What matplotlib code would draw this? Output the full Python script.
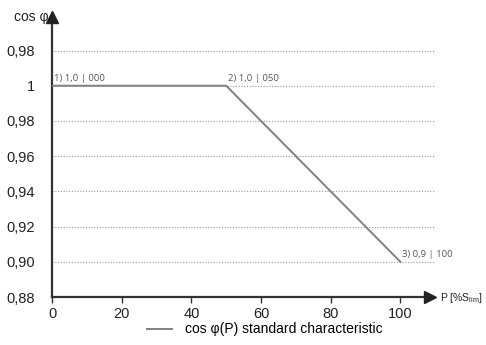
import matplotlib.pyplot as plt

# characteristic points
p_pct = [0, 50, 100]
cos_phi = [1.0, 1.0, 0.9]
point_labels = ["1) 1,0 | 000", "2) 1,0 | 050", "3) 0,9 | 100"]

x_ticks = [0, 20, 40, 60, 80, 100]
y_ticks = [0.88, 0.90, 0.92, 0.94, 0.96, 0.98, 1.00, 1.02]
y_tick_labels = ["0,88", "0,90", "0,92", "0,94", "0,96", "0,98", "1", "0,98"]

plt.rcParams["font.family"] = ["Liberation Sans", "DejaVu Sans"]

fig = plt.figure(figsize=(4.86, 3.45), dpi=100)
ax = fig.add_axes([0.107, 0.139, 0.81, 0.832])

axis_col = "#333333"
ax.set_xlim(0, 113)
ax.set_ylim(0.88, 1.043)

for yv in y_ticks[1:]:
    ax.plot([0, 110], [yv, yv], color="#999999", lw=0.8, ls=(0, (1, 1.5)), zorder=1)

ax.plot(p_pct, cos_phi, color="#808080", lw=1.4, zorder=3,
        label="cos φ(P) standard characteristic")

for x, y, lab in zip(p_pct, cos_phi, point_labels):
    ax.text(x + 0.5, y + 0.0015, lab, fontsize=6.8, color="#555555", ha="left", va="bottom",
            family=["Open Sans", "DejaVu Sans"])

for s in ["top", "right"]:
    ax.spines[s].set_visible(False)
for s in ["left", "bottom"]:
    ax.spines[s].set_color(axis_col)
    ax.spines[s].set_linewidth(1.6)
ax.spines["bottom"].set_bounds(0, 108)
ax.spines["left"].set_bounds(0.88, 1.038)

ax.plot(108.5, 0.88, marker=">", color="#222222", markersize=8, clip_on=False, zorder=5)
ax.plot(0, 1.039, marker="^", color="#222222", markersize=8, clip_on=False, zorder=5)

ax.set_xticks(x_ticks)
ax.set_xticklabels([str(v) for v in x_ticks], fontsize=10.5, color="#222222")
ax.set_yticks(y_ticks)
ax.set_yticklabels(y_tick_labels, fontsize=10.5, color="#222222")
ax.tick_params(axis="x", length=4, width=1, color=axis_col, pad=3)
ax.tick_params(axis="y", length=0, pad=12)

fig.text(0.029, 0.95, "cos φ", fontsize=10, color="#222222", ha="left", va="center")
fig.text(0.994, 0.137, r"P [%S$_{\mathregular{lim}}$]", fontsize=7.5, color="#222222",
         ha="right", va="center")

ax.legend(loc="upper center", bbox_to_anchor=(0.54, -0.045), frameon=False,
          fontsize=10, handlelength=1.8, handletextpad=0.9)

fig.savefig("out.png", dpi=100)
